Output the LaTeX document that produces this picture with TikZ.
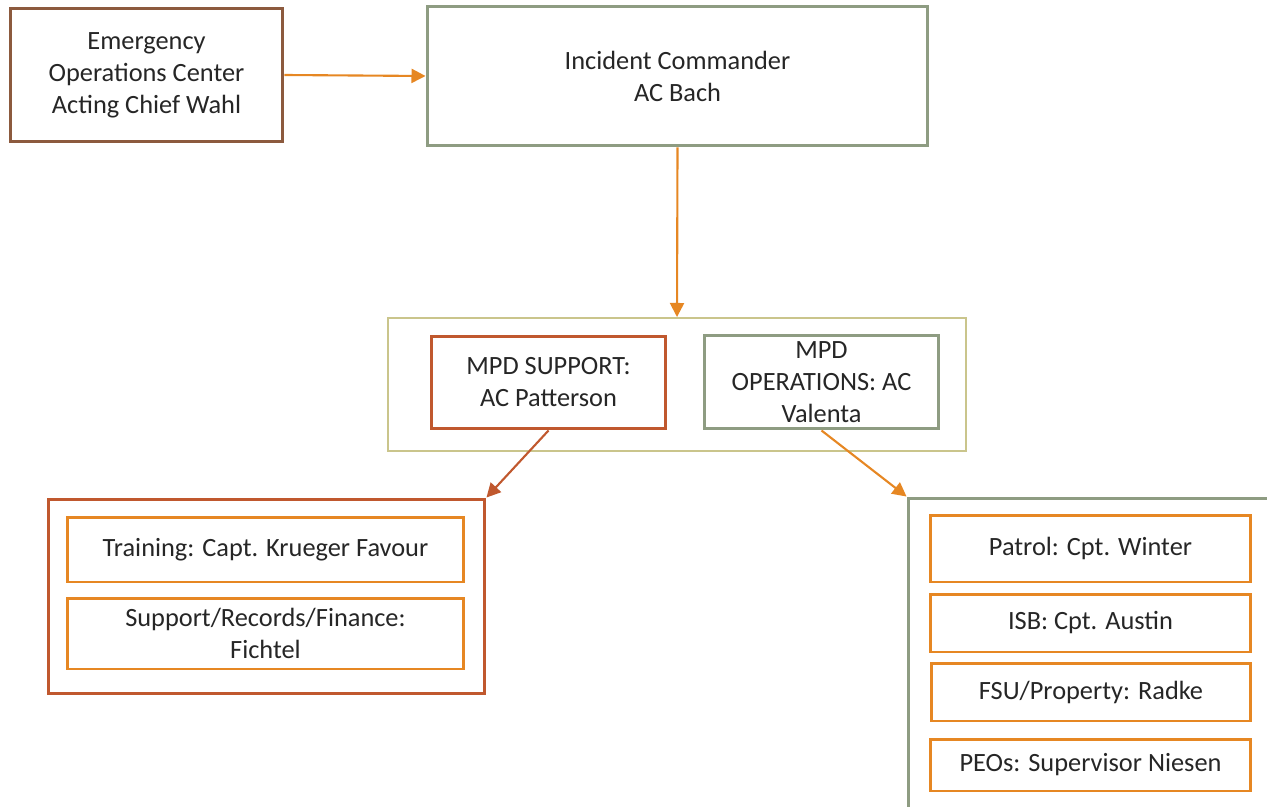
\documentclass[tikz,border=0pt]{standalone}
\usepackage{fontspec}
\setmainfont{Carlito}
\usetikzlibrary{arrows.meta}
\definecolor{eocbrown}{RGB}{140,90,62}
\definecolor{sage}{RGB}{142,156,130}
\definecolor{rust}{RGB}{192,88,46}
\definecolor{amber}{RGB}{230,135,35}
\definecolor{olive}{RGB}{202,197,140}
\tikzset{
  unit/.style={draw,line width=1.7pt,fill=white,align=center,inner sep=0pt,
    font=\fontsize{15}{18.2}\selectfont,text=black!85},
  flow/.style={line width=1.2pt,-{Triangle[length=8pt,width=8pt]}}
}

\begin{document}
\begin{tikzpicture}[x=0.02cm,y=-0.02cm]
\useasboundingbox (0,0) rectangle (1267,807);
\clip (0,0) rectangle (1267,807);

% Top row
\node[unit,draw=eocbrown,minimum width=5.46cm,minimum height=2.68cm] (eoc) at (146.5,75)
  {Emergency\\Operations Center\\Acting Chief Wahl};
\node[unit,draw=sage,minimum width=10.02cm,minimum height=2.8cm] (ic) at (677.5,76)
  {Incident Commander\\AC Bach};

% Support / operations group
\node[draw=olive,line width=1.1pt,minimum width=11.56cm,minimum height=2.66cm] (group) at (677,384.5) {};
\node[unit,draw=rust,minimum width=4.7cm,minimum height=1.86cm] (support) at (548.5,382.5)
  {MPD SUPPORT:\\AC Patterson};
\node[unit,draw=sage,minimum width=4.7cm,minimum height=1.88cm] (ops) at (821.5,382)
  {MPD\\OPERATIONS: AC\\Valenta};

% Support branch
\node[unit,draw=rust,minimum width=8.74cm,minimum height=3.9cm] (supbox) at (266.5,596.5) {};
\node[unit,draw=amber,minimum width=7.94cm,minimum height=1.3cm] (training) at (265.5,549.5)
  {Training: Capt. Krueger Favour};
\node[unit,draw=amber,minimum width=7.94cm,minimum height=1.42cm] (records) at (265.5,633.5)
  {Support/Records/Finance:\\Fichtel};

% Operations branch
\node[unit,draw=sage,minimum width=8cm,minimum height=7cm] (opsbox) at (1108,673) {};
\node[unit,draw=amber,minimum width=6.42cm,minimum height=1.34cm] (patrol) at (1090.5,548.5)
  {Patrol: Cpt. Winter};
\node[unit,draw=amber,minimum width=6.42cm,minimum height=1.16cm] (isb) at (1090.5,623)
  {ISB: Cpt. Austin};
\node[unit,draw=amber,minimum width=6.4cm,minimum height=1.16cm] (fsu) at (1091,692)
  {FSU/Property: Radke};
\node[unit,draw=amber,minimum width=6.42cm,minimum height=1.04cm] (peos) at (1090.5,765)
  {PEOs: Supervisor Niesen};

% Connectors
\draw[flow,amber] (eoc.east) -- (ic.west);
\draw[flow,amber] (ic.south) -- (group.north);
\draw[flow,rust] (support.south) -- (supbox.north east);
\draw[flow,amber] (ops.south) -- (opsbox.north west);
\end{tikzpicture}
\end{document}
